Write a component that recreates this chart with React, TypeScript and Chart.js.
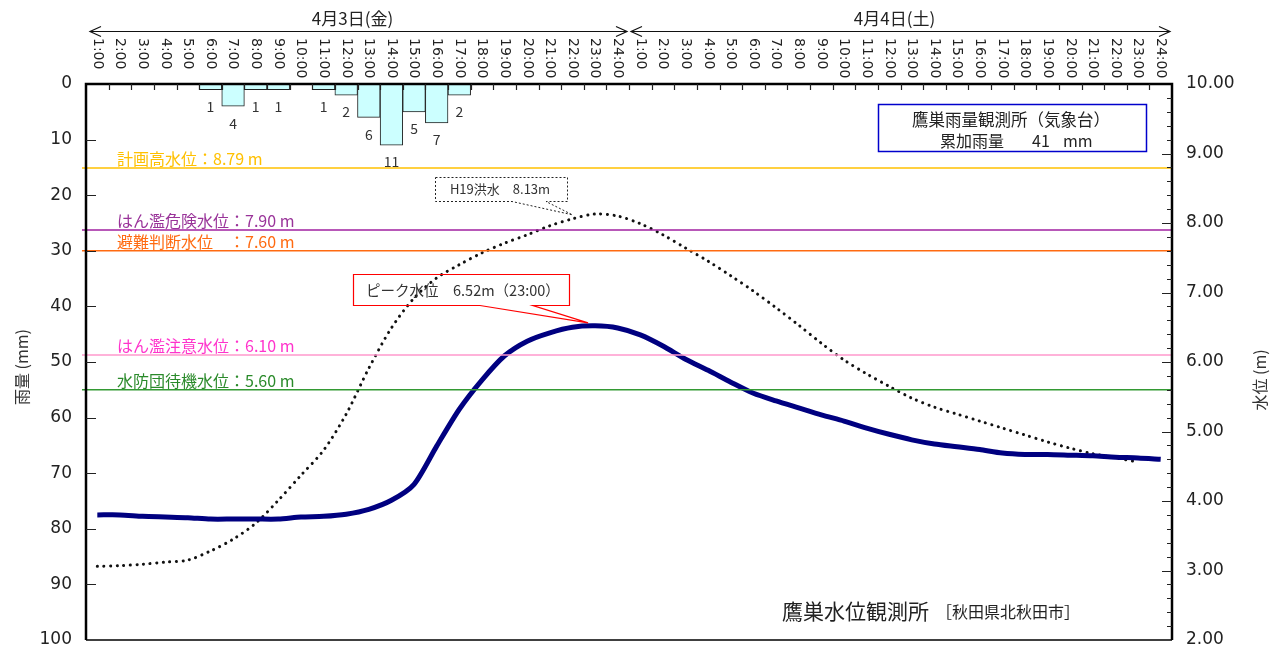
import React, { useEffect, useRef } from 'react';
import { Chart, registerables } from 'chart.js';

Chart.register(...registerables);

const FONT = '"Noto Sans CJK JP", "Noto Sans", sans-serif';
const NUMFONT = '"DejaVu Sans", sans-serif';

const hourLabels = [
  '1:00', '2:00', '3:00', '4:00', '5:00', '6:00', '7:00', '8:00', '9:00', '10:00', '11:00', '12:00',
  '13:00', '14:00', '15:00', '16:00', '17:00', '18:00', '19:00', '20:00', '21:00', '22:00', '23:00', '24:00',
];
const categories = [...hourLabels, ...hourLabels];
const dayLabels = ['4月3日(金)', '4月4日(土)'];

// hourly rainfall (mm)
const rainfall = [
  0, 0, 0, 0, 0, 1, 4, 1, 1, 0, 1, 2, 6, 11, 5, 7, 2, 0, 0, 0, 0, 0, 0, 0,
  0, 0, 0, 0, 0, 0, 0, 0, 0, 0, 0, 0, 0, 0, 0, 0, 0, 0, 0, 0, 0, 0, 0, 0,
];

// water level (m)
const waterLevel = [
  3.80, 3.80, 3.78, 3.77, 3.76, 3.74, 3.74, 3.74, 3.74, 3.77, 3.78, 3.81,
  3.88, 4.01, 4.24, 4.79, 5.32, 5.74, 6.09, 6.30, 6.42, 6.50, 6.52, 6.49,
  6.39, 6.23, 6.04, 5.88, 5.71, 5.55, 5.44, 5.34, 5.24, 5.15, 5.05, 4.96,
  4.88, 4.82, 4.78, 4.74, 4.69, 4.67, 4.67, 4.66, 4.65, 4.63, 4.62, 4.60,
];

// H19 flood water level (m)
const h19Level = [
  3.06, 3.07, 3.09, 3.12, 3.15, 3.28, 3.45, 3.68, 4.01, 4.37, 4.73, 5.25,
  5.91, 6.49, 6.92, 7.21, 7.40, 7.57, 7.71, 7.83, 7.96, 8.06, 8.13, 8.10,
  7.99, 7.83, 7.64, 7.45, 7.24, 7.02, 6.78, 6.53, 6.27, 6.03, 5.83, 5.65,
  5.48, 5.35, 5.25, 5.15, 5.05, 4.95, 4.85, 4.76, 4.68, 4.62, 4.56, null,
];

const thresholdNames = ['計画高水位', 'はん濫危険水位', '避難判断水位　', 'はん濫注意水位', '水防団待機水位'];
const thresholdValues = [8.79, 7.90, 7.60, 6.10, 5.60];
const thresholdLineColors = ['#ffc000', '#a020a0', '#ff6a10', '#ff99cc', '#339933'];
const thresholdTextColors = ['#ffc000', '#993399', '#ff6a10', '#ff33cc', '#2a8a2a'];

const rainAxis = { min: 0, max: 100, step: 10 };
const levelAxis = { min: 2, max: 10, step: 1, minor: 0.2 };

const rainStation = '鷹巣雨量観測所（気象台）';
const levelStation = '鷹巣水位観測所';
const levelPlace = '［秋田県北秋田市］';

function drawCallout(
  ctx: CanvasRenderingContext2D,
  x: number, y: number, w: number, h: number,
  b1: number, b2: number, tx: number, ty: number,
) {
  ctx.beginPath();
  ctx.moveTo(x, y);
  ctx.lineTo(x + w, y);
  ctx.lineTo(x + w, y + h);
  ctx.lineTo(b2, y + h);
  ctx.lineTo(tx, ty);
  ctx.lineTo(b1, y + h);
  ctx.lineTo(x, y + h);
  ctx.closePath();
  ctx.stroke();
}

const overlayPlugin = {
  id: 'overlay',
  afterDatasetsDraw(chart: any) {
    const { ctx, chartArea: a, scales } = chart;
    const xs = scales.x;
    const yl = scales.level;
    const yr = scales.rain;
    ctx.save();

    // threshold lines
    thresholdValues.forEach((v, i) => {
      const py = yl.getPixelForValue(v);
      ctx.strokeStyle = thresholdLineColors[i];
      ctx.lineWidth = 1.5;
      ctx.beginPath();
      ctx.moveTo(a.left - 4, py);
      ctx.lineTo(a.right, py);
      ctx.stroke();
      ctx.fillStyle = thresholdTextColors[i];
      ctx.font = `16px ${FONT}`;
      ctx.textAlign = 'left';
      ctx.textBaseline = 'middle';
      ctx.fillText(`${thresholdNames[i]}：${v.toFixed(2)} m`, a.left + 31, py - 9);
    });

    // bar value labels
    const meta = chart.getDatasetMeta(0);
    ctx.fillStyle = '#333';
    ctx.font = `14px ${FONT}`;
    ctx.textAlign = 'center';
    ctx.textBaseline = 'middle';
    meta.data.forEach((el: any, i: number) => {
      if (rainfall[i] > 0) ctx.fillText(String(rainfall[i]), el.x, el.y + 17);
    });

    // plot border
    ctx.strokeStyle = '#000';
    ctx.lineWidth = 2.5;
    ctx.beginPath();
    ctx.moveTo(a.left, a.bottom);
    ctx.lineTo(a.left, a.top);
    ctx.lineTo(a.right, a.top);
    ctx.lineTo(a.right, a.bottom);
    ctx.stroke();
    ctx.lineWidth = 1.5;
    ctx.beginPath();
    ctx.moveTo(a.left, a.bottom);
    ctx.lineTo(a.right, a.bottom);
    ctx.stroke();

    // inner ticks
    ctx.lineWidth = 1.2;
    ctx.strokeStyle = '#222';
    ctx.beginPath();
    for (let v = rainAxis.min + rainAxis.step; v < rainAxis.max; v += rainAxis.step) {
      const py = Math.round(yr.getPixelForValue(v)) + 0.5;
      ctx.moveTo(a.left, py);
      ctx.lineTo(a.left + 10, py);
    }
    const nMinor = Math.round((levelAxis.max - levelAxis.min) / levelAxis.minor);
    for (let k = 1; k < nMinor; k++) {
      const v = levelAxis.min + k * levelAxis.minor;
      const py = Math.round(yl.getPixelForValue(v)) + 0.5;
      const len = k % 5 === 0 ? 10 : 5;
      ctx.moveTo(a.right - len, py);
      ctx.lineTo(a.right, py);
    }
    for (let i = 0; i < categories.length - 1; i++) {
      const bx = Math.round((xs.getPixelForValue(i) + xs.getPixelForValue(i + 1)) / 2) + 0.5;
      ctx.moveTo(bx, a.top);
      ctx.lineTo(bx, a.top + 6);
    }
    ctx.stroke();

    // time labels (rotated clockwise)
    ctx.fillStyle = '#222';
    ctx.font = `14px ${NUMFONT}`;
    ctx.textAlign = 'left';
    ctx.textBaseline = 'middle';
    categories.forEach((lab, i) => {
      const px = xs.getPixelForValue(i);
      ctx.save();
      ctx.translate(px, 38);
      ctx.rotate(Math.PI / 2);
      ctx.fillText(lab, 0, 0);
      ctx.restore();
    });

    // day headers with arrows
    const mid = (xs.getPixelForValue(23) + xs.getPixelForValue(24)) / 2;
    const spans = [[a.left + 4, mid - 2], [mid + 2, a.right - 2]];
    const ay = 31.5;
    ctx.strokeStyle = '#111';
    ctx.lineWidth = 1.2;
    spans.forEach(([s, e], i) => {
      ctx.beginPath();
      ctx.moveTo(s, ay);
      ctx.lineTo(e, ay);
      ctx.moveTo(s + 11, ay - 5);
      ctx.lineTo(s, ay);
      ctx.lineTo(s + 11, ay + 5);
      ctx.moveTo(e - 11, ay - 5);
      ctx.lineTo(e, ay);
      ctx.lineTo(e - 11, ay + 5);
      ctx.stroke();
      ctx.fillStyle = '#222';
      ctx.font = `17px ${FONT}`;
      ctx.textAlign = 'center';
      ctx.textBaseline = 'middle';
      ctx.fillText(dayLabels[i], (s + e) / 2 - 6, 19);
    });

    // axis titles
    ctx.fillStyle = '#333';
    ctx.font = `16px ${FONT}`;
    ctx.textAlign = 'center';
    ctx.textBaseline = 'middle';
    ctx.save();
    ctx.translate(22, 367);
    ctx.rotate(-Math.PI / 2);
    ctx.fillText('雨量 (mm)', 0, 0);
    ctx.restore();
    ctx.save();
    ctx.translate(1260, 380);
    ctx.rotate(-Math.PI / 2);
    ctx.fillText('水位 (m)', 0, 0);
    ctx.restore();

    // H19 callout
    let h19Peak = 0;
    h19Level.forEach((v) => { if (v != null && v > h19Peak) h19Peak = v; });
    const hTipI = 21;
    const htx = xs.getPixelForValue(hTipI);
    const hty = yl.getPixelForValue(h19Level[hTipI] as number) - 4;
    ctx.strokeStyle = '#222';
    ctx.lineWidth = 1;
    ctx.setLineDash([2, 2]);
    drawCallout(ctx, 435.5, 177.5, 132, 24, 512, 546, htx, hty);
    ctx.setLineDash([]);
    ctx.fillStyle = '#333';
    ctx.font = `13px ${FONT}`;
    ctx.textAlign = 'center';
    ctx.fillText(`H19洪水　${h19Peak.toFixed(2)}m`, 500, 189.5);

    // peak callout
    let pi = 0;
    waterLevel.forEach((v, i) => { if (v > waterLevel[pi]) pi = i; });
    const ptx = xs.getPixelForValue(pi) - 7;
    const pty = yl.getPixelForValue(waterLevel[pi]) - 3;
    ctx.strokeStyle = '#ff0000';
    ctx.lineWidth = 1.2;
    drawCallout(ctx, 353.5, 274.5, 216, 31, 480, 533, ptx, pty);
    ctx.fillStyle = '#333';
    ctx.font = `14.5px ${FONT}`;
    ctx.textAlign = 'left';
    ctx.fillText(`ピーク水位　${waterLevel[pi].toFixed(2)}m（${categories[pi]}）`, 366, 290);

    // rainfall station box
    const total = rainfall.reduce((s, v) => s + v, 0);
    ctx.fillStyle = '#fff';
    ctx.fillRect(878, 104, 269, 48);
    ctx.strokeStyle = '#0000cc';
    ctx.lineWidth = 1.5;
    ctx.strokeRect(878.5, 104.5, 268, 47);
    ctx.fillStyle = '#222';
    ctx.font = `16.5px ${FONT}`;
    ctx.textAlign = 'center';
    ctx.fillText(rainStation, 1011, 120);
    ctx.font = `16px ${FONT}`;
    ctx.textAlign = 'left';
    ctx.fillText('累加雨量', 940, 141);
    ctx.fillText(String(total), 1032, 141);
    ctx.fillText('mm', 1063, 141);

    // level station label
    ctx.font = `21px ${FONT}`;
    ctx.fillText(levelStation, 782, 611);
    ctx.font = `16px ${FONT}`;
    ctx.fillText(levelPlace, 936, 612);

    ctx.restore();
  },
};

export default function App() {
  const ref = useRef<HTMLCanvasElement | null>(null);
  useEffect(() => {
    if (!ref.current) return;
    const fitVertical = (w: number) => (s: any) => {
      s.width = w;
      s.paddingTop = 0;
      s.paddingBottom = 0;
    };
    const chart = new Chart(ref.current, {
      type: 'bar',
      data: {
        labels: categories,
        datasets: [
          {
            type: 'bar',
            label: '雨量',
            data: rainfall.map((v) => (v > 0 ? v : null)),
            yAxisID: 'rain',
            backgroundColor: '#ccffff',
            borderColor: '#222',
            borderWidth: 1,
            barPercentage: 1,
            categoryPercentage: 1,
            order: 3,
          } as any,
          {
            type: 'line',
            label: 'H19洪水',
            data: h19Level,
            yAxisID: 'level',
            borderColor: '#111',
            borderWidth: 3,
            borderDash: [0.1, 6.5],
            borderCapStyle: 'round',
            pointRadius: 0,
            tension: 0.3,
            fill: false,
            order: 2,
          } as any,
          {
            type: 'line',
            label: '水位',
            data: waterLevel,
            yAxisID: 'level',
            borderColor: '#000080',
            borderWidth: 5,
            pointRadius: 0,
            tension: 0.25,
            fill: false,
            order: 1,
          } as any,
        ],
      },
      options: {
        animation: false,
        responsive: false,
        maintainAspectRatio: false,
        devicePixelRatio: 1,
        layout: { autoPadding: false, padding: { left: 0, right: 0, top: 0, bottom: 11 } },
        plugins: { legend: { display: false }, tooltip: { enabled: false } },
        scales: {
          x: {
            type: 'category',
            position: 'top',
            offset: true,
            grid: { display: false },
            border: { display: false },
            ticks: { display: false },
            afterFit: (s: any) => {
              s.height = 84;
              s.paddingLeft = 0;
              s.paddingRight = 0;
            },
          },
          rain: {
            type: 'linear',
            position: 'left',
            reverse: true,
            min: rainAxis.min,
            max: rainAxis.max,
            grid: { display: false, drawTicks: false },
            border: { display: false },
            ticks: {
              stepSize: rainAxis.step,
              padding: 14,
              color: '#222',
              font: { family: NUMFONT, size: 17 },
              autoSkip: false,
            },
            afterFit: fitVertical(86),
          },
          level: {
            type: 'linear',
            position: 'right',
            min: levelAxis.min,
            max: levelAxis.max,
            grid: { display: false, drawTicks: false },
            border: { display: false },
            ticks: {
              stepSize: levelAxis.step,
              padding: 14,
              color: '#222',
              font: { family: NUMFONT, size: 17 },
              autoSkip: false,
              callback: (v: any) => Number(v).toFixed(2),
            },
            afterFit: fitVertical(100),
          },
        },
      } as any,
      plugins: [overlayPlugin],
    });
    return () => chart.destroy();
  }, []);
  return (
    <div style={{ position: 'absolute', left: 0, top: 0, width: 1272, height: 651, background: '#fff' }}>
      <canvas ref={ref} width={1272} height={651} style={{ width: 1272, height: 651, display: 'block' }} />
    </div>
  );
}
